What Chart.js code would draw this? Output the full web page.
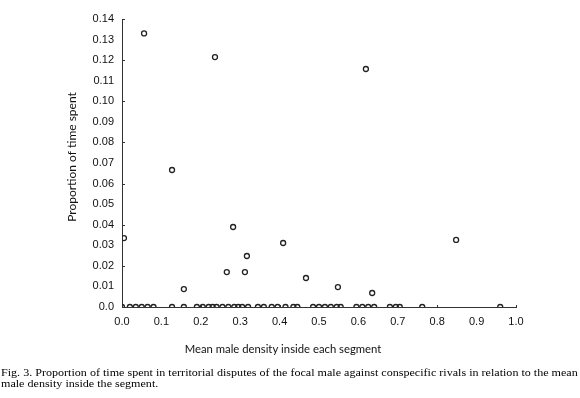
<!DOCTYPE html>
<html>
<head>
<meta charset="utf-8">
<script src="https://cdn.jsdelivr.net/npm/chart.js@4"></script>
<style>
  html, body { margin: 0; padding: 0; background: #fff; }
  #wrap { width: 580px; height: 398px; position: relative; }
</style>
</head>
<body>
<div id="wrap"><canvas id="chart"></canvas></div>
<script>
// Fig. 3: proportion of time in territorial disputes vs mean male density
const maleDensity = [
    0.005, 0.056, 0.127, 0.157, 0.236, 0.266, 0.282, 0.312, 0.317, 0.409,
    0.467, 0.548, 0.619, 0.635, 0.848,
    0.0, 0.02, 0.035, 0.05, 0.065, 0.08, 0.127, 0.157, 0.19, 0.205,
    0.22, 0.23, 0.24, 0.255, 0.27, 0.285, 0.295, 0.305, 0.32, 0.345,
    0.36, 0.38, 0.395, 0.415, 0.435, 0.445, 0.485, 0.5, 0.515, 0.53,
    0.545, 0.555, 0.595, 0.61, 0.625, 0.64, 0.68, 0.695, 0.705, 0.762,
    0.96
];
const timeProportion = [
    0.0335, 0.133, 0.0666, 0.0087, 0.1215, 0.017, 0.0389, 0.017, 0.0248, 0.0311,
    0.0141, 0.0097, 0.1157, 0.0068, 0.0326,
    0, 0, 0, 0, 0, 0, 0, 0, 0, 0,
    0, 0, 0, 0, 0, 0, 0, 0, 0, 0,
    0, 0, 0, 0, 0, 0, 0, 0, 0, 0,
    0, 0, 0, 0, 0, 0, 0, 0, 0, 0,
    0
];
const xTitle = 'Mean male density inside each segment';
const yTitle = 'Proportion of time spent';
const captionLines = [
    'Fig. 3. Proportion of time spent in territorial disputes of the focal male against conspecific rivals in relation to the mean',
    'male density inside the segment.'
];

const points = maleDensity.map((x, i) => ({ x, y: timeProportion[i] }));

// inward tick marks + titles and caption
const decorPlugin = {
    id: 'decor',
    afterDraw(chart) {
        const { ctx, chartArea, scales } = chart;
        ctx.save();
        ctx.strokeStyle = '#333';
        ctx.lineWidth = 1;
        ctx.beginPath();
        for (let v = 0.02; v <= 0.1401; v += 0.02) {
            const py = Math.round(scales.y.getPixelForValue(v)) + 0.5;
            ctx.moveTo(chartArea.left, py);
            ctx.lineTo(chartArea.left + 3, py);
        }
        for (let v = 0.2; v <= 1.0001; v += 0.2) {
            const px = Math.round(scales.x.getPixelForValue(v)) + 0.5;
            ctx.moveTo(px, chartArea.bottom);
            ctx.lineTo(px, chartArea.bottom - 2);
        }
        ctx.stroke();

        ctx.fillStyle = '#111';
        ctx.textAlign = 'center';
        ctx.textBaseline = 'middle';
        ctx.font = '11.3px Lato, sans-serif';
        ctx.fillText(xTitle, 283, 349);

        ctx.font = '12px Lato, sans-serif';
        ctx.save();
        ctx.translate(72, 157);
        ctx.rotate(-Math.PI / 2);
        ctx.fillText(yTitle, 0, 0);
        ctx.restore();

        // the scanned caption is a bit stretched sideways
        ctx.textAlign = 'left';
        ctx.fillStyle = '#000';
        ctx.font = '10.5px "Liberation Serif", "Times New Roman", serif';
        ctx.save();
        ctx.translate(1, 0);
        ctx.scale(1.15, 1);
        ctx.fillText(captionLines[0], 0, 373);
        ctx.fillText(captionLines[1], 0, 384);
        ctx.restore();
        ctx.restore();
    }
};

new Chart(document.getElementById('chart'), {
    type: 'scatter',
    data: {
        datasets: [{
            label: 'segments',
            data: points,
            pointStyle: 'circle',
            pointRadius: 2.5,
            pointBorderWidth: 1.3,
            pointBorderColor: '#222',
            pointBackgroundColor: 'rgba(255,255,255,0)'
        }]
    },
    options: {
        responsive: true,
        maintainAspectRatio: false,
        animation: false,
        layout: { padding: { top: 19, right: 64, left: 0, bottom: 0 } },
        plugins: {
            legend: { display: false },
            tooltip: { enabled: false }
        },
        scales: {
            x: {
                type: 'linear',
                min: 0,
                max: 1.0,
                afterFit: s => { s.height = 91; },
                border: { color: '#333', width: 1 },
                grid: { display: false, drawTicks: false },
                ticks: {
                    stepSize: 0.1,
                    padding: 8,
                    maxRotation: 0,
                    color: '#111',
                    font: { family: '"Liberation Sans", Arial, sans-serif', size: 11 },
                    callback: v => v.toFixed(1)
                }
            },
            y: {
                type: 'linear',
                min: 0,
                max: 0.14,
                afterFit: s => { s.width = 122; },
                border: { color: '#333', width: 1 },
                grid: { display: false, drawTicks: false },
                ticks: {
                    stepSize: 0.01,
                    padding: 8,
                    color: '#111',
                    font: { family: '"Liberation Sans", Arial, sans-serif', size: 11 },
                    callback: v => (Math.abs(v) < 1e-9 ? '0.0' : v.toFixed(2))
                }
            }
        }
    },
    plugins: [decorPlugin]
});
</script>
</body>
</html>
